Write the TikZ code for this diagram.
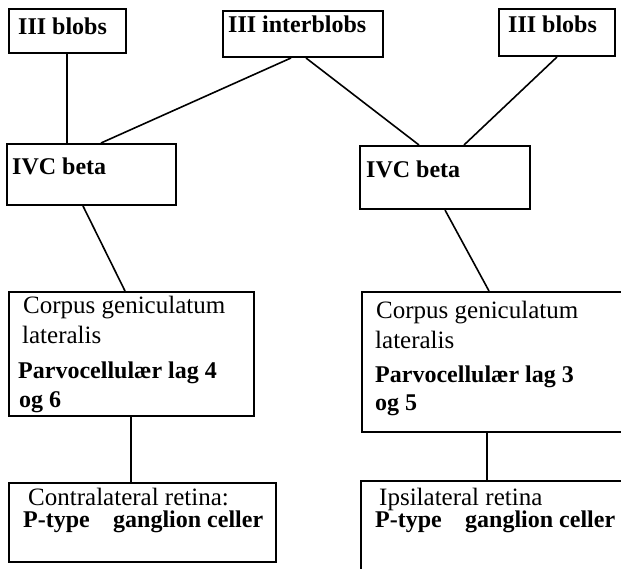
\documentclass[tikz,border=0pt]{standalone}
\usepackage{fontspec}
\setmainfont{Liberation Serif}
\begin{document}
\begin{tikzpicture}[x=1pt,y=-1pt,
  box/.style={draw, line width=2pt, inner sep=0pt, minimum width=#1},
  lbl/.style={anchor=base west, inner sep=0pt, font=\fontsize{24}{28}\selectfont},
  plain/.style={anchor=base west, inner sep=0pt, font=\fontsize{25}{29}\selectfont},
  link/.style={line width=1.6pt}]
\useasboundingbox (0,0) rectangle (621,569);
\fill[white] (0,0) rectangle (621,569);
\clip (0,0) rectangle (621,569);

% boxes
\node[box=117pt, minimum height=44pt] (blobL) at (67.5,31) {};
\node[box=160pt, minimum height=46pt] (inter) at (303,34) {};
\node[box=116pt, minimum height=47pt] (blobR) at (557,32.5) {};
\node[box=169pt, minimum height=61pt] (ivcL) at (91.5,174.5) {};
\node[box=170pt, minimum height=63pt] (ivcR) at (445,177.5) {};
\node[box=245pt, minimum height=124pt] (corpL) at (131.5,354) {};
\node[box=263pt, minimum height=140pt] (corpR) at (493.5,362) {};
\node[box=267pt, minimum height=79pt] (contra) at (142.5,522.5) {};
\node[box=264pt, minimum height=94pt] (ipsi) at (493,528) {};

% labels
\node[lbl] (t1) at (18,35) {\textbf{III blobs}};
\node[lbl] (t2) at (228,33) {\textbf{III interblobs}};
\node[lbl] (t3) at (508,33) {\textbf{III blobs}};
\node[lbl] (t4) at (12,175) {\textbf{IVC beta}};
\node[lbl] (t5) at (366,178) {\textbf{IVC beta}};

\node[plain] (c1) at (23,313) {Corpus geniculatum};
\node[plain] (c2) at (22,343) {lateralis};
\node[lbl] (c3) at (18,378) {\textbf{Parvocellulær lag 4}};
\node[lbl] (c4) at (19,407) {\textbf{og 6}};

\node[plain] (d1) at (376,318) {Corpus geniculatum};
\node[plain] (d2) at (375,348) {lateralis};
\node[lbl] (d3) at (375,382) {\textbf{Parvocellulær lag 3}};
\node[lbl] (d4) at (375,410) {\textbf{og 5}};

\node[plain] (e1) at (28,505) {Contralateral retina:};
\node[lbl] (e2) at (23,527) {\textbf{P-type}};
\node[lbl] (e3) at (113,527) {\textbf{ganglion celler}};

\node[plain] (f1) at (379,505) {Ipsilateral retina};
\node[lbl] (f2) at (375,527) {\textbf{P-type}};
\node[lbl] (f3) at (465,527) {\textbf{ganglion celler}};

% connectors
\draw[link] ([xshift=59pt]blobL.south west) -- ([xshift=61pt]ivcL.north west);
\draw[link] ([xshift=69pt]inter.south west) -- ([xshift=95pt]ivcL.north west);
\draw[link] ([xshift=84pt]inter.south west) -- ([xshift=60pt]ivcR.north west);
\draw[link] ([xshift=59pt]blobR.south west) -- ([xshift=105pt]ivcR.north west);
\draw[link] ([xshift=77pt]ivcL.south west) -- ([xshift=117pt]corpL.north west);
\draw[link] ([xshift=86pt]ivcR.south west) -- ([xshift=128pt]corpR.north west);
\draw[link] ([xshift=123pt]corpL.south west) -- ([xshift=123pt]contra.north west);
\draw[link] ([xshift=126pt]corpR.south west) -- ([xshift=127pt]ipsi.north west);
\end{tikzpicture}
\end{document}
